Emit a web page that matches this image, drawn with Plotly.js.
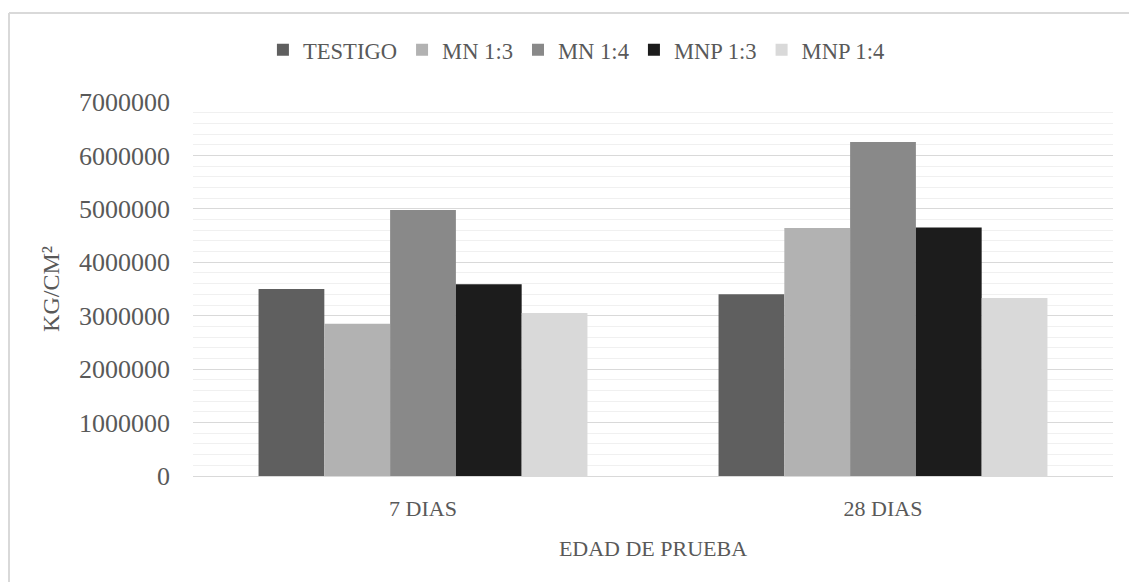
<!DOCTYPE html>
<html>
<head>
<meta charset="utf-8">
<script src="https://cdn.plot.ly/plotly-3.0.1.min.js"></script>
<style>html,body{margin:0;padding:0;background:#fff;}#chart{width:1129px;height:582px;}</style>
</head>
<body>
<div id="chart"></div>
<script>
var categories = ['7 DIAS', '28 DIAS'];
var seriesNames = ['TESTIGO', 'MN 1:3', 'MN 1:4', 'MNP 1:3', 'MNP 1:4'];
var testigo = [3500000, 3400000];
var mn13 = [2850000, 4640000];
var mn14 = [4980000, 6250000];
var mnp13 = [3590000, 4650000];
var mnp14 = [3050000, 3330000];
var colors = ['#5f5f5f', '#b2b2b2', '#898989', '#1c1c1c', '#d9d9d9'];
var yTickVals = [0, 1000000, 2000000, 3000000, 4000000, 5000000, 6000000, 7000000];
var yTickText = ['0', '1000000', '2000000', '3000000', '4000000', '5000000', '6000000', '7000000'];

var seriesValues = [testigo, mn13, mn14, mnp13, mnp14];
var FONT = 'Liberation Serif, serif';
var TXT = '#595959';

var traces = seriesNames.map(function (name, i) {
  return {
    type: 'bar',
    name: name,
    x: categories,
    y: seriesValues[i],
    marker: {color: colors[i], line: {width: 0}},
    hoverinfo: 'x+y+name'
  };
});

var layout = {
  width: 1129,
  height: 582,
  margin: {l: 193, r: 16, t: 102, b: 106, pad: 0},
  paper_bgcolor: '#ffffff',
  plot_bgcolor: '#ffffff',
  font: {family: FONT, color: TXT, size: 22},
  barmode: 'group',
  bargap: 0.285,
  bargroupgap: 0,
  showlegend: true,
  legend: {
    orientation: 'h',
    x: 0.076, xanchor: 'left',
    y: 1.139, yanchor: 'middle',
    font: {family: FONT, size: 22.6, color: TXT},
    itemwidth: 30,
    itemsizing: 'constant',
    traceorder: 'normal',
    bgcolor: 'rgba(0,0,0,0)'
  },
  xaxis: {
    type: 'category',
    tickfont: {family: FONT, size: 22, color: TXT},
    showgrid: false,
    showline: true,
    linecolor: '#d9d9d9',
    linewidth: 1,
    ticks: '',
    ticklabelstandoff: 13,
    title: {text: 'EDAD DE PRUEBA', font: {family: FONT, size: 22, color: TXT}, standoff: 20},
    fixedrange: true
  },
  yaxis: {
    range: [0, 7000000],
    tickvals: yTickVals,
    ticktext: yTickText,
    tickfont: {family: FONT, size: 26, color: TXT},
    showgrid: true,
    gridcolor: '#d9d9d9',
    gridwidth: 1,
    zeroline: false,
    showline: false,
    ticks: '',
    ticklabelstandoff: 22,
    minor: {dtick: 200000, showgrid: true, gridcolor: '#f0f0f0', gridwidth: 1, ticks: ''},
    title: {text: 'KG/CM²', font: {family: FONT, size: 24, color: TXT}, standoff: 12},
    fixedrange: true
  },
  shapes: [
    {type: 'line', xref: 'paper', yref: 'paper', x0: -0.2, x1: -0.2, y0: -0.3, y1: 1.238, line: {color: '#d9d9d9', width: 2}},
    {type: 'line', xref: 'paper', yref: 'paper', x0: -0.2, x1: 1.03, y0: 1.238, y1: 1.238, line: {color: '#d9d9d9', width: 2}}
  ]
};

Plotly.newPlot('chart', traces, layout, {displayModeBar: false, staticPlot: true});
</script>
</body>
</html>
